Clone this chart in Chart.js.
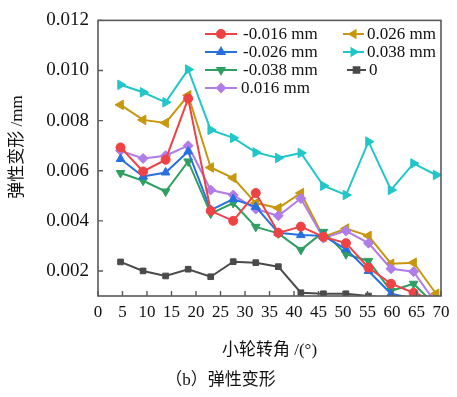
<!DOCTYPE html>
<html>
<head>
<meta charset="utf-8">
<script src="https://cdn.jsdelivr.net/npm/chart.js@4.4.1/dist/chart.umd.min.js"></script>
<style>
  html, body { margin: 0; padding: 0; background: #fff; }
  #wrap { width: 457px; height: 397px; }
</style>
</head>
<body>
<div id="wrap"><canvas id="deformChart"></canvas></div>
<script>
// 小轮转角 (deg)
const angles = [4.6, 9.2, 13.8, 18.4, 23.0, 27.6, 32.2, 36.8, 41.4, 46.0, 50.6, 55.2, 59.8, 64.4, 69.0];

const seriesNames = ['-0.016 mm', '-0.026 mm', '-0.038 mm', '0.016 mm', '0.026 mm', '0.038 mm', '0'];

const negA = [0.00693, 0.00597, 0.00644, 0.00888, 0.00440, 0.00400, 0.00511, 0.00352, 0.00377, 0.00336, 0.00311, 0.00213, 0.00149, 0.00113, 0.00078];
const negB = [0.00647, 0.00577, 0.00593, 0.00677, 0.00443, 0.00487, 0.00456, 0.00352, 0.00343, 0.00340, 0.00287, 0.00200, 0.00109, 0.00090, 0.00070];
const negC = [0.00591, 0.00560, 0.00517, 0.00637, 0.00429, 0.00471, 0.00376, 0.00350, 0.00284, 0.00356, 0.00267, 0.00240, 0.00120, 0.00149, 0.00060];
const posA = [0.00680, 0.00649, 0.00660, 0.00700, 0.00523, 0.00503, 0.00447, 0.00420, 0.00489, 0.00331, 0.00360, 0.00311, 0.00209, 0.00197, 0.00070];
const posB = [0.00863, 0.00803, 0.00791, 0.00901, 0.00613, 0.00571, 0.00471, 0.00451, 0.00511, 0.00336, 0.00369, 0.00340, 0.00229, 0.00233, 0.00109];
const posC = [0.00943, 0.00913, 0.00873, 0.01004, 0.00763, 0.00731, 0.00673, 0.00651, 0.00671, 0.00540, 0.00503, 0.00716, 0.00523, 0.00629, 0.00583];
const zero = [0.00236, 0.00200, 0.00180, 0.00207, 0.00177, 0.00237, 0.00233, 0.00217, 0.00113, 0.00109, 0.00109, 0.00100, 0.00090, 0.00080, 0.00080];

const xTicks = [0, 5, 10, 15, 20, 25, 30, 35, 40, 45, 50, 55, 60, 65, 70];
const yTicks = [0.002, 0.004, 0.006, 0.008, 0.010, 0.012];

const serif = "'Liberation Serif', 'Noto Sans CJK SC', serif";

function makeSet(label, values, color, style, rot, r) {
  return {
    label: label,
    data: values.map((v, i) => ({ x: angles[i], y: v })),
    borderColor: color,
    backgroundColor: color,
    borderWidth: 2,
    pointStyle: style,
    pointRotation: rot,
    pointRadius: r,
    pointBorderWidth: 1,
    tension: 0
  };
}

const datasets = [
  makeSet(seriesNames[0], negA, '#ee4245', 'circle', 0, 4.5),
  makeSet(seriesNames[1], negB, '#2670e0', 'triangle', 0, 5),
  makeSet(seriesNames[2], negC, '#2f9f62', 'triangle', 180, 5),
  makeSet(seriesNames[3], posA, '#b07de8', 'rectRot', 0, 5),
  makeSet(seriesNames[4], posB, '#c8970e', 'triangle', 270, 5.5),
  makeSet(seriesNames[5], posC, '#20c6c8', 'triangle', 90, 5.5),
  makeSet(seriesNames[6], zero, '#4a4a4a', 'rect', 0, 4)
];

// frame + inward ticks + y title
const framePlugin = {
  id: 'frame',
  afterDatasetsDraw(chart) {
    const { ctx, chartArea: a, scales } = chart;
    ctx.save();
    ctx.strokeStyle = '#5a5a5a';
    ctx.lineWidth = 1.6;
    ctx.strokeRect(a.left, a.top, a.right - a.left, a.bottom - a.top);
    ctx.lineWidth = 1.4;
    ctx.beginPath();
    xTicks.forEach(t => {
      const px = scales.x.getPixelForValue(t);
      ctx.moveTo(px, a.bottom);
      ctx.lineTo(px, a.bottom - 5);
    });
    yTicks.forEach(t => {
      const py = scales.y.getPixelForValue(t);
      ctx.moveTo(a.left, py);
      ctx.lineTo(a.left + 5, py);
    });
    ctx.stroke();

    // y axis title, sitting a bit above the plot centre like the original
    ctx.translate(18, 147);
    ctx.rotate(-Math.PI / 2);
    ctx.font = '17px ' + serif;
    ctx.fillStyle = '#111';
    ctx.textAlign = 'center';
    ctx.textBaseline = 'middle';
    ctx.fillText('弹性变形 /mm', 0, 0);
    ctx.restore();
  }
};

// two-column legend like the original
const legendPlugin = {
  id: 'legendBox',
  afterDraw(chart, args, opts) {
    const { ctx } = chart;
    ctx.save();
    ctx.font = '17px ' + serif;
    ctx.textBaseline = 'middle';
    opts.items.forEach(it => {
      const ds = chart.data.datasets[it.index];
      ctx.strokeStyle = ds.borderColor;
      ctx.lineWidth = 2;
      ctx.beginPath();
      ctx.moveTo(it.x0, it.y);
      ctx.lineTo(it.x1, it.y);
      ctx.stroke();
      ctx.fillStyle = ds.backgroundColor;
      Chart.helpers.drawPoint(ctx, {
        pointStyle: ds.pointStyle,
        rotation: ds.pointRotation,
        radius: 4,
        borderWidth: 1
      }, (it.x0 + it.x1) / 2, it.y);
      ctx.fillStyle = '#111';
      ctx.fillText(ds.label, it.tx, it.y + 1);
    });
    ctx.restore();
  }
};

const ctx = document.getElementById('deformChart').getContext('2d');

new Chart(ctx, {
  type: 'line',
  data: { datasets: datasets },
  options: {
    responsive: true,
    maintainAspectRatio: false,
    animation: false,
    layout: { padding: { top: 19, right: 16, left: 0, bottom: 0 } },
    scales: {
      x: {
        type: 'linear',
        min: 0,
        max: 70,
        afterBuildTicks: s => { s.ticks = xTicks.map(v => ({ value: v })); },
        afterFit: s => { s.height = 70.6; },
        grid: { display: false, drawTicks: false },
        border: { display: false },
        ticks: {
          padding: 6,
          color: '#111',
          maxRotation: 0,
          autoSkip: false,
          font: { family: serif, size: 17 }
        },
        title: {
          display: true,
          text: '小轮转角 /(°)',
          color: '#111',
          font: { family: serif, size: 17 },
          padding: { top: 0, bottom: 6 }
        }
      },
      y: {
        min: 0.001,
        max: 0.012,
        afterBuildTicks: s => { s.ticks = yTicks.map(v => ({ value: v })); },
        afterFit: s => { s.width = 98; },
        grid: { display: false, drawTicks: false },
        border: { display: false },
        ticks: {
          padding: 9,
          color: '#111',
          font: { family: serif, size: 19 },
          callback: v => v.toFixed(3)
        }
      }
    },
    plugins: {
      legend: { display: false },
      tooltip: { enabled: false },
      title: {
        display: true,
        position: 'bottom',
        text: '（b）弹性变形',
        color: '#111',
        font: { family: serif, size: 17, weight: 'normal' },
        padding: { top: 4, bottom: 6 }
      },
      legendBox: {
        items: [
          { index: 0, x0: 205, x1: 237, tx: 243, y: 34 },
          { index: 1, x0: 205, x1: 237, tx: 243, y: 52 },
          { index: 2, x0: 205, x1: 237, tx: 243, y: 70 },
          { index: 3, x0: 205, x1: 237, tx: 241, y: 88 },
          { index: 4, x0: 343, x1: 364, tx: 367, y: 34 },
          { index: 5, x0: 343, x1: 364, tx: 367, y: 52 },
          { index: 6, x0: 347, x1: 366, tx: 369, y: 70 }
        ]
      }
    }
  },
  plugins: [framePlugin, legendPlugin]
});
</script>
</body>
</html>
